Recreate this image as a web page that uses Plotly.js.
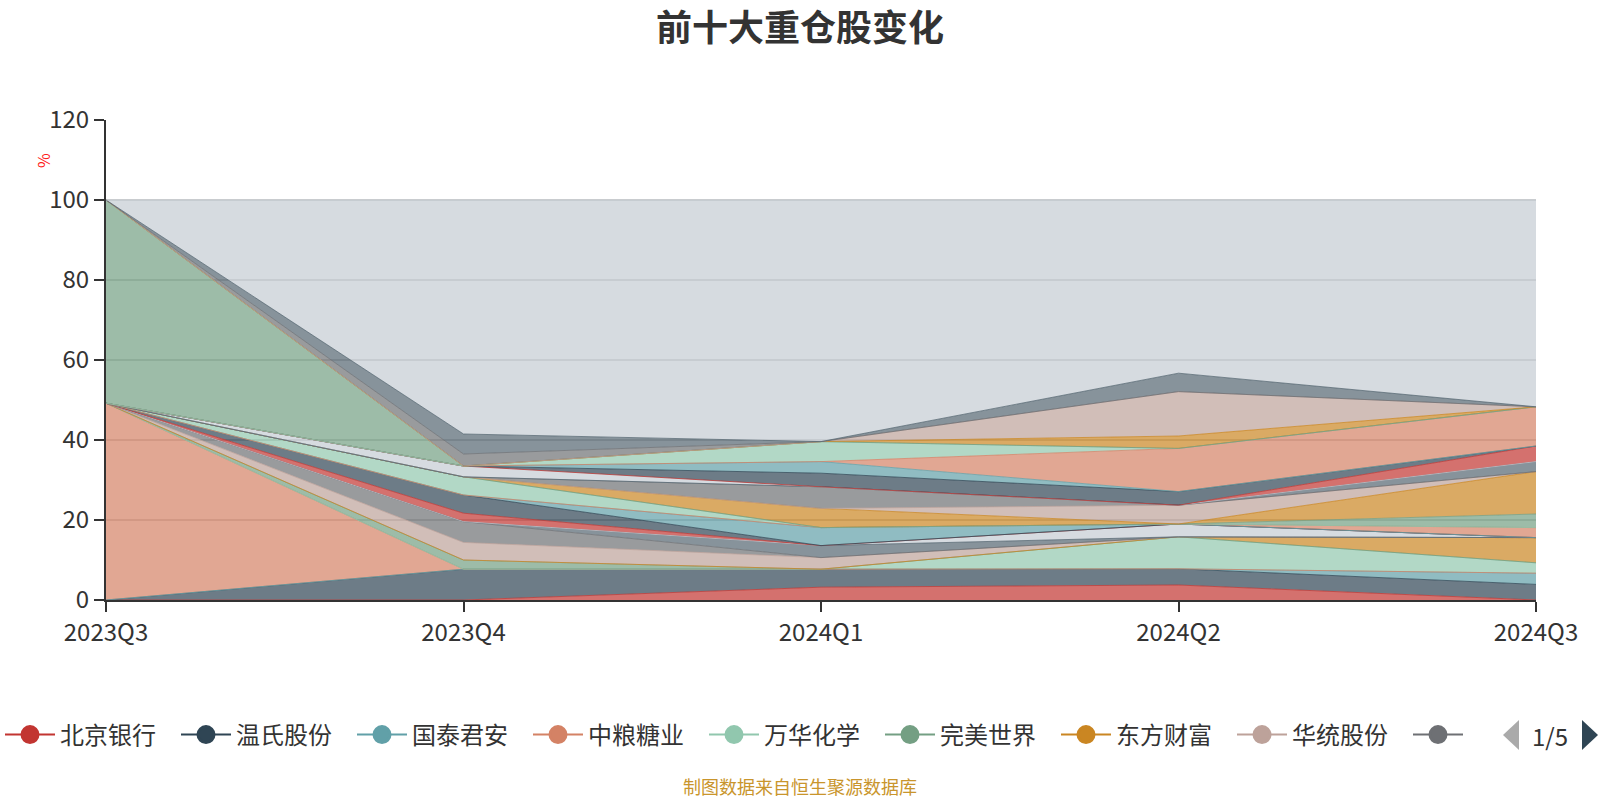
<!DOCTYPE html>
<html>
<head>
<meta charset="utf-8">
<script src="https://cdn.plot.ly/plotly-3.0.1.min.js"></script>
<style>
html,body{margin:0;padding:0;background:#fff;}
#chart{width:1600px;height:800px;}
</style>
</head>
<body>
<div id="chart"></div>
<script>
// ---------- data (percent of net value, stack order = series order) ----------
const quarters = ['2023Q3', '2023Q4', '2024Q1', '2024Q2', '2024Q3'];
const legendNames = ['北京银行', '温氏股份', '国泰君安', '中粮糖业', '万华化学', '完美世界', '东方财富', '华统股份', ''];
const yTicks = [0, 20, 40, 60, 80, 100, 120];

const s00 = [0, 0, 3.2, 3.75, 0];      // 北京银行
const s01 = [0, 7.7, 4.5, 4.05, 3.9];  // 温氏股份
const s02 = [0, 0, 0, 0, 2.8];         // 国泰君安
const s03 = [49.2, 0, 0, 0, 0];        // 中粮糖业
const s04 = [0, 0, 0, 8.0, 2.6];       // 万华化学
const s05 = [0, 2.3, 0, 0, 0];         // 完美世界
const s06 = [0, 0, 0, 0, 6.3];         // 东方财富
const s07 = [0, 4.4, 2.9, 0, 0];       // 华统股份
const s08 = [0, 5.2, 0, 0, 0];
const s09 = [0, 0, 3.0, 0, 0];
const s10 = [0, 0, 0, 3.2, 0];
const s11 = [0, 2.1, 0, 0, 0];
const s12 = [0, 4.55, 0, 0, 0];
const s13 = [0, 0, 4.5, 0, 0];
const s14 = [0, 0, 0, 0, 2.5];
const s15 = [0, 4.55, 0, 0, 0];
const s16 = [0, 0, 0, 0, 3.4];
const s17 = [0, 0, 4.8, 0, 10.6];
const s18 = [0, 0, 0, 4.7, 0];
const s19 = [0, 0, 5.4, 0, 0];
const s20 = [0, 0, 0, 0, 2.5];
const s21 = [0, 2.7, 0, 0, 0];
const s22 = [0, 0, 0, 0, 3.9];
const s23 = [0, 0, 3.4, 3.4, 0];
const s24 = [0, 0, 2.9, 0, 0];
const s25 = [0, 0, 0, 10.8, 9.8];
const s26 = [0, 0, 5.0, 0, 0];
const s27 = [50.8, 0, 0, 0, 0];
const s28 = [0, 0, 0, 3.1, 0];
const s29 = [0, 0, 0, 11.1, 0];
const s30 = [0, 3.0, 0, 0, 0];
const s31 = [0, 5.0, 0, 4.6, 0];
const s32 = [0, 58.5, 60.4, 43.3, 51.7];

// ---------- styling ----------
const palette = ['#c23531', '#2f4554', '#61a0a8', '#d48265', '#91c7ae', '#749f83',
                 '#ca8622', '#bda29a', '#6e7074', '#546570', '#c4ccd3'];
const FONT = '"Noto Sans CJK SC", "Noto Sans", sans-serif';
const W = 1600, H = 800;
const M = {l: 106, r: 64, t: 120, b: 200};
const PW = W - M.l - M.r, PH = H - M.t - M.b;
const px = v => (v - M.l) / PW;
const py = v => (H - M.b - v) / PH;

function rgba(hex, a) {
  const n = parseInt(hex.slice(1), 16);
  return `rgba(${(n >> 16) & 255},${(n >> 8) & 255},${n & 255},${a})`;
}

const seriesList = [s00, s01, s02, s03, s04, s05, s06, s07, s08, s09, s10, s11, s12, s13, s14, s15, s16,
                    s17, s18, s19, s20, s21, s22, s23, s24, s25, s26, s27, s28, s29, s30, s31, s32];

const traces = seriesList.map((vals, i) => {
  const c = palette[i % palette.length];
  return {
    type: 'scatter', mode: 'lines', x: quarters, y: vals,
    stackgroup: 'holdings',
    name: i < legendNames.length ? legendNames[i] : '',
    line: {color: rgba(c, 0.75), width: 1, shape: 'linear'},
    fillcolor: rgba(c, 0.7),
    showlegend: false, hoverinfo: 'skip'
  };
});

legendNames.forEach((nm, i) => {
  const c = palette[i % palette.length];
  traces.push({
    type: 'scatter', mode: 'lines+markers', x: [null], y: [null],
    name: nm, line: {color: c, width: 2}, marker: {color: c, size: 16, line: {color: c, width: 3}},
    showlegend: true, hoverinfo: 'skip',
    legendwidth: i === legendNames.length - 1 ? 1 : 111
  });
});

const tri = (pts) => 'M ' + pts.map(p => px(p[0]) + ' ' + py(p[1])).join(' L ') + ' Z';

const layout = {
  width: W, height: H,
  margin: {l: M.l, r: M.r, t: M.t, b: M.b, autoexpand: false},
  paper_bgcolor: '#fff', plot_bgcolor: '#fff',
  font: {family: FONT, color: '#333'},
  title: {
    text: '<b>前十大重仓股变化</b>',
    font: {family: FONT, size: 36, color: '#333'},
    x: 0.5, xref: 'container', xanchor: 'center',
    y: 1 - 28 / H, yref: 'container', yanchor: 'middle'
  },
  xaxis: {
    type: 'category', categoryorder: 'array', categoryarray: quarters,
    range: [0, quarters.length - 1],
    showgrid: false, zeroline: false,
    showline: true, linecolor: '#333', linewidth: 2,
    ticks: 'outside', ticklen: 10, tickwidth: 2, tickcolor: '#333',
    tickfont: {family: FONT, size: 24, color: '#333'},
    layer: 'below traces', fixedrange: true
  },
  yaxis: {
    range: [0, 120], tickvals: yTicks, ticktext: yTicks.map(String),
    showgrid: true, gridcolor: '#cccccc', gridwidth: 1.5, zeroline: false,
    showline: true, linecolor: '#333', linewidth: 2,
    ticks: 'outside', ticklen: 10, tickwidth: 2, tickcolor: '#333',
    tickfont: {family: FONT, size: 24, color: '#333'},
    layer: 'below traces', fixedrange: true
  },
  showlegend: true,
  legend: {
    orientation: 'h', x: px(0), xanchor: 'left', y: py(735), yanchor: 'middle',
    xref: 'paper', yref: 'paper',
    font: {family: FONT, size: 24, color: '#333'},
    bgcolor: 'rgba(0,0,0,0)', itemwidth: 50, itemsizing: 'trace',
    entrywidthmode: 'pixels', entrywidth: 111, traceorder: 'normal',
    itemclick: false, itemdoubleclick: false
  },
  shapes: [
    {type: 'path', xref: 'paper', yref: 'paper', path: tri([[1503, 735], [1519, 720], [1519, 750]]),
     fillcolor: '#aaaaaa', line: {width: 0}},
    {type: 'path', xref: 'paper', yref: 'paper', path: tri([[1582, 720], [1582, 750], [1598, 735]]),
     fillcolor: '#2f4554', line: {width: 0}}
  ],
  annotations: [
    {text: '1/5', xref: 'paper', yref: 'paper', x: px(1550), y: py(735), xanchor: 'center', yanchor: 'middle',
     showarrow: false, font: {family: FONT, size: 24, color: '#333'}},
    {text: '制图数据来自恒生聚源数据库', xref: 'paper', yref: 'paper', x: px(800), y: py(786),
     xanchor: 'center', yanchor: 'middle', showarrow: false,
     font: {family: FONT, size: 18, color: '#c9952c'}},
    {text: '%', xref: 'paper', yref: 'paper', x: px(43), y: py(161), xanchor: 'center', yanchor: 'middle',
     showarrow: false, textangle: -90, font: {family: FONT, size: 16, color: '#ff2020'}}
  ]
};

Plotly.newPlot('chart', traces, layout, {staticPlot: true, displayModeBar: false});
</script>
</body>
</html>
